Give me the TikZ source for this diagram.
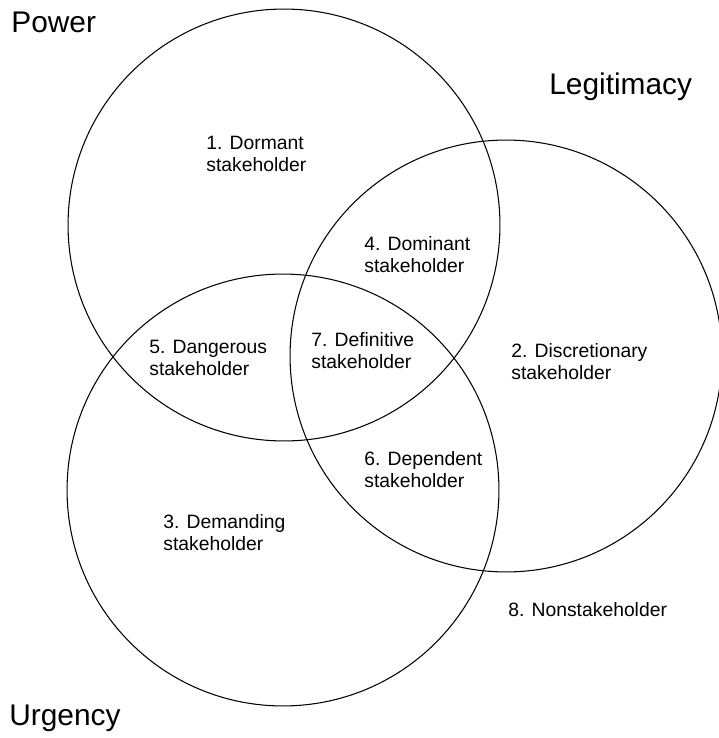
\documentclass[tikz,border=0pt]{standalone}
\usepackage{fontspec}
\setmainfont{Liberation Sans}
\usetikzlibrary{positioning}

\begin{document}
\begin{tikzpicture}[
    x=0.02cm, y=-0.02cm,
    ring/.style={
      draw, circle, line width=0.6pt, inner sep=0pt,
      minimum size=8.64cm
    },
    attr/.style={
      inner sep=0pt, anchor=west,
      font=\fontsize{17}{20}\selectfont
    },
    group/.style={
      inner sep=0pt, anchor=west, align=left,
      font=\fontsize{11}{12.6}\selectfont
    }
  ]
    \useasboundingbox (0,0) rectangle (718,738);

    % The three attributes
    \node[ring] (power) at (284,225) {};
    \node[ring] (legit) at (506,356) {};
    \node[ring] (urgency) at (283,490) {};

    \node[attr] (powerlbl) at (11,22) {Power};
    \node[attr] (legitlbl) at (549,87) {Legitimacy};
    \node[attr] (urgencylbl) at (9,718) {Urgency};

    % Stakeholder classes
    \node[group] (dormant) at (206,154) {1. Dormant\\stakeholder};
    \node[group] (dominant) at (364,255) {4. Dominant\\stakeholder};
    \node[group] (dangerous) at (149,358) {5. Dangerous\\stakeholder};
    \node[group] (definitive) at (311,351) {7. Definitive\\stakeholder};
    \node[group] (discretionary) at (511,362) {2. Discretionary\\stakeholder};
    \node[group] (dependent) at (364,470) {6. Dependent\\stakeholder};
    \node[group] (demanding) at (163,533) {3. Demanding\\stakeholder};
    \node[group] (non) at (508,610) {8. Nonstakeholder};
\end{tikzpicture}
\end{document}
